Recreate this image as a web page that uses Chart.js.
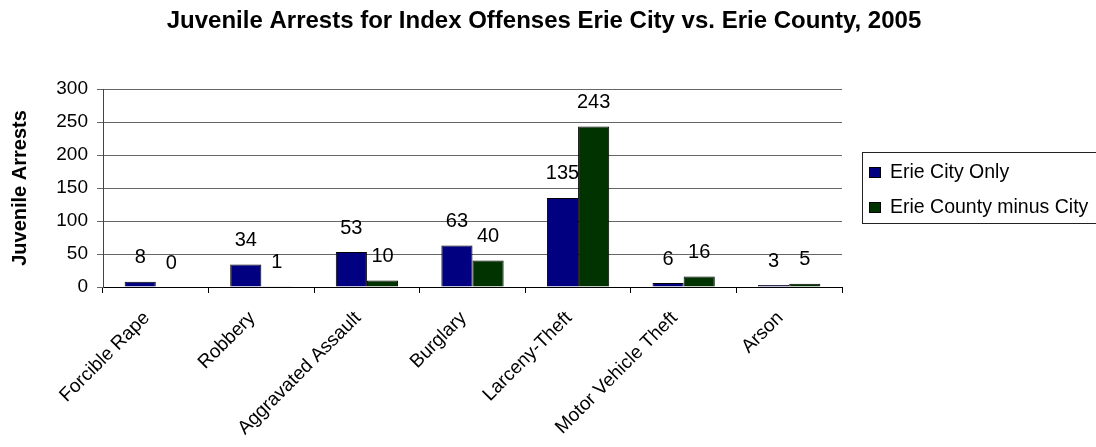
<!DOCTYPE html>
<html>
<head>
<meta charset="utf-8">
<script src="https://cdn.jsdelivr.net/npm/chart.js@4/dist/chart.umd.min.js"></script>
<style>
  html, body { margin: 0; padding: 0; background: #fff; }
</style>
</head>
<body>
<canvas id="chart" width="1096" height="447"></canvas>
<script>
/* ---------- Données ---------- */
const categories = ["Forcible Rape", "Robbery", "Aggravated Assault", "Burglary",
                    "Larceny-Theft", "Motor Vehicle Theft", "Arson"];
const cityOnly = [8, 34, 53, 63, 135, 6, 3];
const countyMinusCity = [0, 1, 10, 40, 243, 16, 5];
const seriesNames = ["Erie City Only", "Erie County minus City"];
const yTicks = [0, 50, 100, 150, 200, 250, 300];
const chartTitle = "Juvenile Arrests for Index Offenses Erie City vs. Erie County, 2005";

const FONT = "'Liberation Sans', Arial, sans-serif";

/* ---------- Titre (centré sur toute la largeur) ---------- */
const pageTitle = {
  id: "pageTitle",
  afterDraw(chart) {
    const ctx = chart.ctx;
    ctx.save();
    ctx.font = "bold 24px " + FONT;
    ctx.fillStyle = "#000";
    ctx.textAlign = "center";
    ctx.textBaseline = "middle";
    ctx.fillText(chartTitle, chart.width / 2 - 4, 21);
    ctx.restore();
  }
};

/* ---------- Étiquettes de valeurs ---------- */
const valueLabels = {
  id: "valueLabels",
  afterDatasetsDraw(chart) {
    const ctx = chart.ctx;
    ctx.save();
    ctx.font = "20px " + FONT;
    ctx.fillStyle = "#000";
    ctx.textAlign = "center";
    ctx.textBaseline = "middle";
    chart.data.datasets.forEach((ds, i) => {
      chart.getDatasetMeta(i).data.forEach((bar, j) => {
        ctx.fillText(String(ds.data[j]), bar.x, bar.y - 24);
      });
    });
    ctx.restore();
  }
};

/* ---------- Légende encadrée ---------- */
const boxLegend = {
  id: "boxLegend",
  afterDraw(chart) {
    const ctx = chart.ctx;
    const x = 862, y = 152, w = 250, h = 71;
    ctx.save();
    ctx.strokeStyle = "#222";
    ctx.lineWidth = 1;
    ctx.strokeRect(x + 0.5, y + 0.5, w, h);
    ctx.font = "19.5px " + FONT;
    ctx.textBaseline = "middle";
    chart.data.datasets.forEach((ds, i) => {
      const cy = y + 20 + i * 35;
      ctx.fillStyle = ds.backgroundColor;
      ctx.fillRect(x + 7, cy - 5, 12, 11);
      ctx.strokeStyle = "#000";
      ctx.strokeRect(x + 7.5, cy - 4.5, 11, 10);
      ctx.fillStyle = "#000";
      ctx.fillText(ds.label, x + 28, cy + 1);
    });
    ctx.restore();
  }
};

/* ---------- Graphique ---------- */
new Chart(document.getElementById("chart"), {
  type: "bar",
  data: {
    labels: categories,
    datasets: [
      { label: seriesNames[0], data: cityOnly, backgroundColor: "#000080",
        borderColor: "#000", borderWidth: 1 },
      { label: seriesNames[1], data: countyMinusCity, backgroundColor: "#003300",
        borderColor: "#000", borderWidth: 1 }
    ]
  },
  options: {
    responsive: false,
    animation: false,
    layout: { padding: { top: 89, right: 254, bottom: 0, left: 0 } },
    categoryPercentage: 0.59,
    barPercentage: 1,
    plugins: {
      legend: { display: false },
      tooltip: { enabled: false },
      title: { display: false }
    },
    scales: {
      x: {
        grid: { display: true, drawOnChartArea: false, tickLength: 6, color: "#000", offset: true },
        border: { color: "#000" },
        ticks: { color: "#000", font: { family: FONT, size: 19 }, maxRotation: 45, minRotation: 45,
                 padding: 14, labelOffset: -9 },
        afterFit(scale) { scale.height = 160; }
      },
      y: {
        min: 0, max: 300,
        afterBuildTicks(scale) { scale.ticks = yTicks.map(v => ({ value: v })); },
        grid: { color: "#666", tickLength: 6 },
        border: { color: "#444" },
        ticks: { color: "#000", font: { family: FONT, size: 19 }, padding: 9 },
        title: { display: true, text: "Juvenile Arrests", color: "#000",
                 font: { family: FONT, size: 20, weight: "bold" }, padding: { top: 8, bottom: 0 } },
        afterFit(scale) { scale.width = 103; }
      }
    }
  },
  plugins: [valueLabels, boxLegend, pageTitle]
});
</script>
</body>
</html>
